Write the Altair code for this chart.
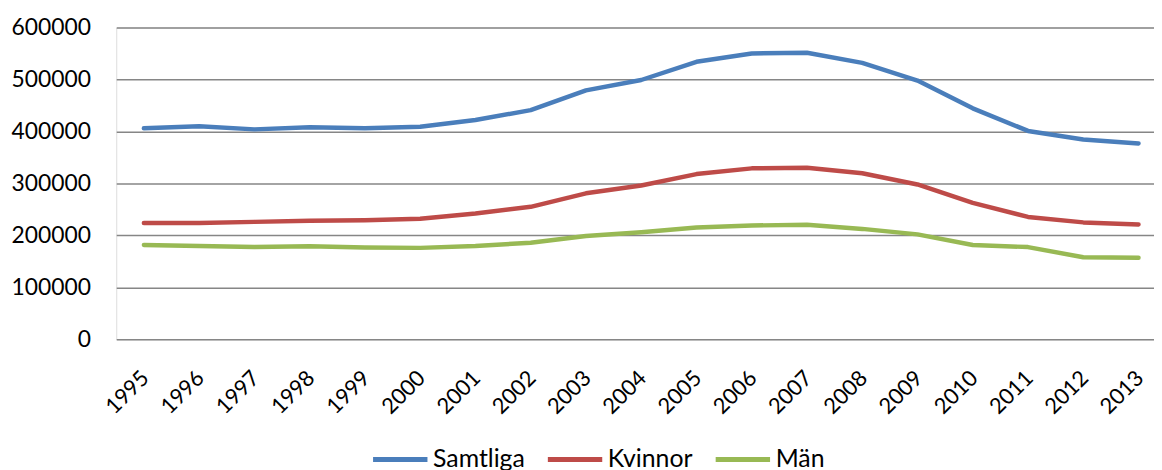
import altair as alt
import pandas as pd

years = list(range(1995, 2014))
samtliga = [406000, 410000, 404000, 408000, 406000, 409000, 422000, 441000, 479000, 499000,
            534000, 550000, 551500, 532000, 498000, 444500, 401000, 384500, 377000]
kvinnor = [224000, 224000, 226000, 228000, 229000, 232000, 242000, 255000, 281000, 296000,
           318000, 329000, 330000, 319500, 298000, 262500, 235500, 225000, 221000]
man = [181500, 179500, 177500, 179000, 176500, 176000, 179500, 186000, 199000, 206000,
       215000, 219000, 220500, 212500, 202000, 181500, 177500, 158000, 157000]

series = ["Samtliga", "Kvinnor", "Män"]
colors = ["#4A7EBB", "#BE4B48", "#98B954"]

rows = []
for name, vals in zip(series, [samtliga, kvinnor, man]):
    for yr, v in zip(years, vals):
        rows.append({"År": yr, "Antal": v, "Serie": name})
df = pd.DataFrame(rows)

FONT = "Lato"

chart = alt.Chart(df).mark_line(strokeWidth=4.5, strokeCap="round", strokeJoin="round").encode(
    x=alt.X("År:Q", title=None,
            scale=alt.Scale(domain=[1994.5, 2013.28], nice=False, zero=False),
            axis=alt.Axis(values=years, format="d", labelAngle=-45, labelAlign="right",
                          labelBaseline="middle", labelPadding=35, labelOffset=1,
                          ticks=False, domain=False, grid=False, labelOverlap=False,
                          labelFont=FONT, labelFontSize=22, labelColor="#000000")),
    y=alt.Y("Antal:Q", title=None,
            scale=alt.Scale(domain=[0, 600000], nice=False),
            axis=alt.Axis(values=[0, 100000, 200000, 300000, 400000, 500000, 600000],
                          format="d", ticks=False, domain=False, grid=True,
                          gridColor="#868686", gridWidth=1.5, labelPadding=26,
                          labelFont=FONT, labelFontSize=23, labelColor="#000000")),
    color=alt.Color("Serie:N", sort=series,
                    scale=alt.Scale(domain=series, range=colors),
                    legend=alt.Legend(title=None, orient="none", direction="horizontal",
                                      legendX=256, legendY=405,
                                      symbolType="stroke", symbolSize=3000,
                                      symbolStrokeWidth=5, labelFont=FONT,
                                      labelFontSize=25, labelColor="#000000",
                                      labelOffset=3, columnPadding=12)),
    order="År:Q",
).properties(
    width=1045,
    height=314,
    autosize=alt.AutoSizeParams(type="none"),
    padding={"left": 109, "top": 18, "right": 0, "bottom": 140},
).configure_view(stroke=None).configure(background="white")

chart.save("out.html", embed_options={"renderer": "svg", "actions": False})
